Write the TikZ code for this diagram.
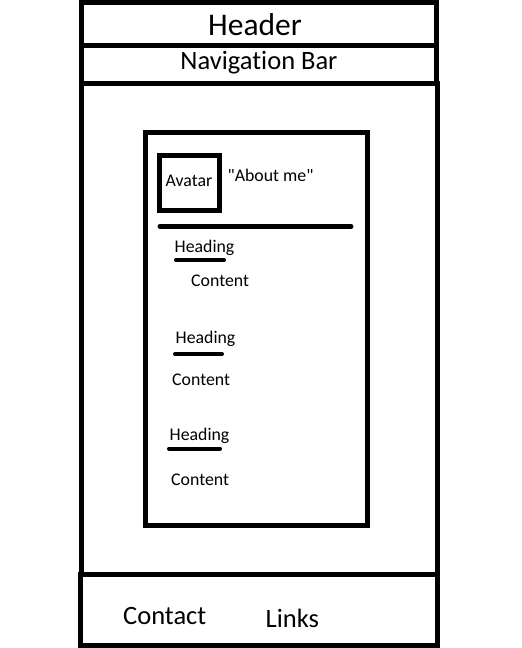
\documentclass[tikz,border=0pt]{standalone}
\usepackage{fontspec}
\setmainfont{Carlito}[Ligatures={NoCommon,TeXOff}]
\begin{document}
\begin{tikzpicture}[x=1pt,y=-1pt,
  frame/.style={draw=black,line width=5pt},
  rule/.style={draw=black,line width=5pt,line cap=round},
  urule/.style={draw=black,line width=4pt,line cap=round},
  big/.style={font=\fontsize{31.5}{34}\selectfont,inner sep=0pt},
  mid/.style={font=\fontsize{26.5}{29}\selectfont,inner sep=0pt},
  small/.style={font=\fontsize{17.8}{20}\selectfont,inner sep=0pt}]
\useasboundingbox[fill=white] (0,0) rectangle (522,648);
% outer regions
\draw[frame] (81,2) rectangle (436.5,45.5);
\draw[frame] (81,45.5) rectangle (436.5,83);
\draw[frame] (81,83) rectangle (437,574.5);
\draw[frame] (80.5,574.5) rectangle (437.5,645.5);
\node[big] (header) at (255,24.5) {Header};
\node[mid] (nav) at (259,63) {Navigation Bar};
% card
\draw[frame] (145,132.5) rectangle (367,525);
\draw[frame] (159.5,155) rectangle (219.5,210);
\node[small] (avatar) at (189,180.5) {Avatar};
\node[small,anchor=west] (about) at (227.5,175.5) {"About me"};
\coordinate (hrA) at (160,226.5);
\coordinate (hrB) at (351,226.5);
\draw[rule] (hrA) -- (hrB);
% sections
\node[small,anchor=west] (h1) at (174.5,248) {Heading};
\coordinate (u1a) at (176,260); \coordinate (u1b) at (224,260);
\draw[urule] (u1a) -- (u1b);
\node[small,anchor=west] (c1) at (191,281) {Content};
\node[small,anchor=west] (h2) at (175.5,339) {Heading};
\coordinate (u2a) at (175,354); \coordinate (u2b) at (222,354);
\draw[urule] (u2a) -- (u2b);
\node[small,anchor=west] (c2) at (172,380) {Content};
\node[small,anchor=west] (h3) at (169.5,435.5) {Heading};
\coordinate (u3a) at (169,448.5); \coordinate (u3b) at (220,448.5);
\draw[urule] (u3a) -- (u3b);
\node[small,anchor=west] (c3) at (171,480) {Content};
% footer
\node[mid,anchor=west] (contact) at (123,615.5) {Contact};
\node[mid,anchor=west] (links) at (265.5,618.5) {Links};
\end{tikzpicture}
\end{document}
